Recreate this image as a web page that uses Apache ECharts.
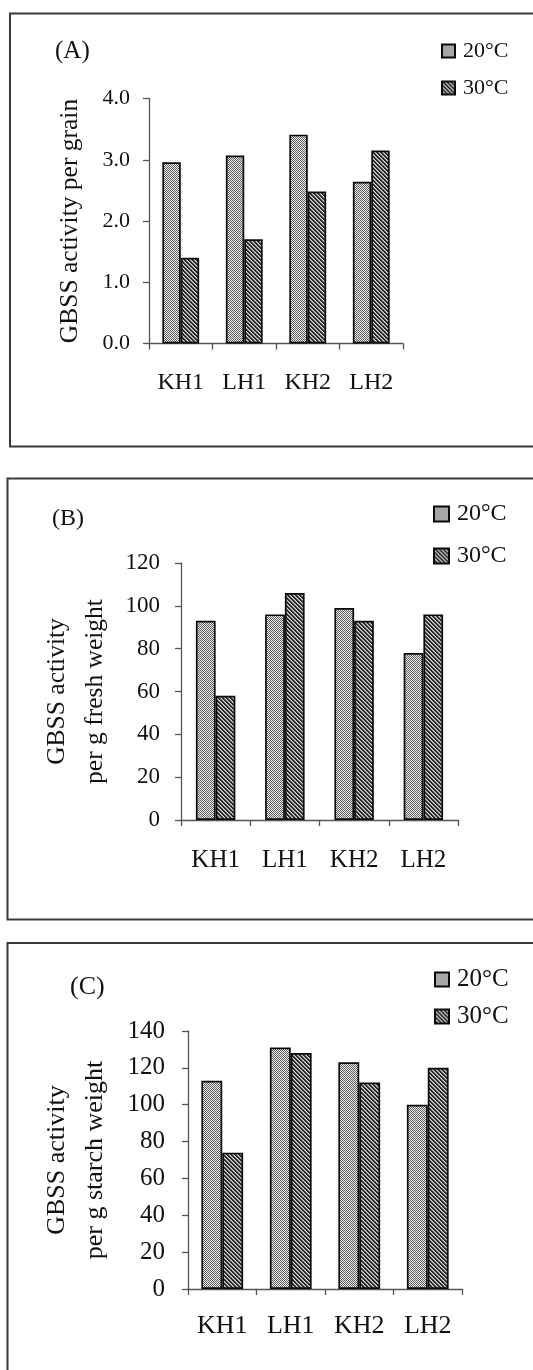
<!DOCTYPE html>
<html>
<head>
<meta charset="utf-8">
<script src="https://cdn.jsdelivr.net/npm/echarts@6/dist/echarts.min.js"></script>
<style>
  html, body { margin: 0; padding: 0; background: #fff; }
  #chart { width: 533px; height: 1370px; }
</style>
</head>
<body>
<div id="chart"></div>
<script>
// Cultivars on the x axis
const categories = ['KH1', 'LH1', 'KH2', 'LH2'];
const seriesNames = ['20°C', '30°C'];

// (A) GBSS activity per grain
const grain20 = [2.96, 3.07, 3.41, 2.64];
const grain30 = [1.40, 1.70, 2.48, 3.15];
// (B) GBSS activity per g fresh weight
const fresh20 = [93, 96, 99, 78];
const fresh30 = [58, 106, 93, 96];
// (C) GBSS activity per g starch weight
const starch20 = [113, 131, 123, 100];
const starch30 = [74, 128, 112, 120];

const panelLetters = ['(A)', '(B)', '(C)'];
const yTitles = [
  'GBSS activity per grain',
  'GBSS activity\nper g fresh weight',
  'GBSS activity\nper g starch weight'
];

const FONT = '"Liberation Serif", "Times New Roman", serif';
const INK = '#111111';

// Fine stipple fill for the 20 °C bars
function stipple() {
  const c = document.createElement('canvas');
  c.width = 4; c.height = 4;
  const g = c.getContext('2d');
  for (let y = 0; y < 4; y++) {
    for (let x = 0; x < 4; x++) {
      g.fillStyle = ((x + y) % 2 === 0) ? '#5c5c5c' : '#f0f0f0';
      g.fillRect(x, y, 1, 1);
    }
  }
  return c;
}
// Diagonal hatch over stipple for the 30 °C bars
function hatch() {
  const c = document.createElement('canvas');
  c.width = 4; c.height = 4;
  const g = c.getContext('2d');
  for (let y = 0; y < 4; y++) {
    for (let x = 0; x < 4; x++) {
      const d = ((x - y) % 4 + 4) % 4;
      if (d === 0 || d === 1) g.fillStyle = '#2a2a2a';
      else g.fillStyle = ((x + y) % 2 === 0) ? '#8a8a8a' : '#dadada';
      g.fillRect(x, y, 1, 1);
    }
  }
  return c;
}
const fills = [
  { image: stipple(), repeat: 'repeat' },
  { image: hatch(), repeat: 'repeat' }
];

// Panel geometry
const panels = [
  { grid: { left: 149, top: 98.5, width: 254, height: 245 }, max: 4, interval: 1, dec: 1,
    tickFont: 22, catFont: 24, titleFont: 25.5, titleLH: 26, nameGap: 66, labelMargin: 19, catMargin: 27,
    gap: '42%', legend: { left: 441, top: 40, icon: 13, font: 22, gapY: 15 },
    box: { x: 10, y: 13.5, h: 433 }, letter: { x: 55, y: 51.5, size: 25 } },
  { grid: { left: 181, top: 563, width: 277, height: 257 }, max: 120, interval: 20, dec: 0,
    tickFont: 23, catFont: 25, titleFont: 25.5, titleLH: 38, nameGap: 65, labelMargin: 21, catMargin: 27.5,
    gap: '43%', legend: { left: 433, top: 502, icon: 15, font: 24, gapY: 18 },
    box: { x: 7.5, y: 478.5, h: 441 }, letter: { x: 52, y: 519, size: 24 } },
  { grid: { left: 188, top: 1031, width: 274, height: 258 }, max: 140, interval: 20, dec: 0,
    tickFont: 25, catFont: 26, titleFont: 26, titleLH: 38, nameGap: 74, labelMargin: 23, catMargin: 24,
    gap: '39%', legend: { left: 434, top: 967, icon: 14, font: 25, gapY: 12 },
    box: { x: 7.5, y: 943, h: 500 }, letter: { x: 70, y: 987, size: 26 } }
];
const data20 = [grain20, fresh20, starch20];
const data30 = [grain30, fresh30, starch30];

const option = {
  animation: false,
  backgroundColor: '#fff',
  grid: panels.map(p => Object.assign({ containLabel: false }, p.grid)),
  xAxis: panels.map((p, i) => ({
    type: 'category',
    gridIndex: i,
    data: categories,
    boundaryGap: true,
    axisLine: { lineStyle: { color: '#555', width: 1.3 } },
    axisTick: { show: true, length: 6, lineStyle: { color: '#555', width: 1.3 } },
    axisLabel: { color: INK, fontFamily: FONT, fontSize: p.catFont, lineHeight: p.catFont, margin: p.catMargin }
  })),
  yAxis: panels.map((p, i) => ({
    type: 'value',
    gridIndex: i,
    min: 0, max: p.max, interval: p.interval,
    splitLine: { show: false },
    axisLine: { show: true, lineStyle: { color: '#555', width: 1.3 } },
    axisTick: { show: true, length: 6, lineStyle: { color: '#555', width: 1.3 } },
    axisLabel: {
      color: INK, fontFamily: FONT, fontSize: p.tickFont, margin: p.labelMargin,
      formatter: v => v.toFixed(p.dec)
    },
    name: yTitles[i],
    nameLocation: 'middle',
    nameRotate: 90,
    nameGap: p.nameGap,
    nameTextStyle: { color: INK, fontFamily: FONT, fontSize: p.titleFont, lineHeight: p.titleLH, align: 'center' }
  })),
  legend: panels.map(p => ({
    data: seriesNames,
    orient: 'vertical',
    left: p.legend.left,
    top: p.legend.top,
    itemWidth: p.legend.icon,
    itemHeight: p.legend.icon,
    itemGap: p.legend.gapY,
    icon: 'rect',
    selectedMode: false,
    padding: 0,
    textStyle: { color: INK, fontFamily: FONT, fontSize: p.legend.font, lineHeight: p.legend.font, padding: [0, 0, 0, 3] }
  })),
  series: [],
  graphic: []
};

panels.forEach((p, i) => {
  [data20[i], data30[i]].forEach((vals, k) => {
    option.series.push({
      type: 'bar',
      name: seriesNames[k],
      xAxisIndex: i,
      yAxisIndex: i,
      data: vals,
      barGap: '0%',
      barCategoryGap: p.gap,
      itemStyle: { color: fills[k], borderColor: '#0a0a0a', borderWidth: 1.7 }
    });
  });
  // Frame around each panel
  option.graphic.push({
    type: 'rect',
    silent: true,
    shape: { x: p.box.x, y: p.box.y, width: 600, height: p.box.h },
    style: { fill: 'none', stroke: '#3a3a3a', lineWidth: 2 },
    z: -1
  });
  // Panel letter
  option.graphic.push({
    type: 'text',
    silent: true,
    x: p.letter.x,
    y: p.letter.y,
    style: {
      text: panelLetters[i],
      fill: INK,
      font: p.letter.size + 'px ' + FONT,
      align: 'left',
      verticalAlign: 'middle'
    }
  });
});

const chart = echarts.init(document.getElementById('chart'), null, { renderer: 'canvas' });
chart.setOption(option);
</script>
</body>
</html>
